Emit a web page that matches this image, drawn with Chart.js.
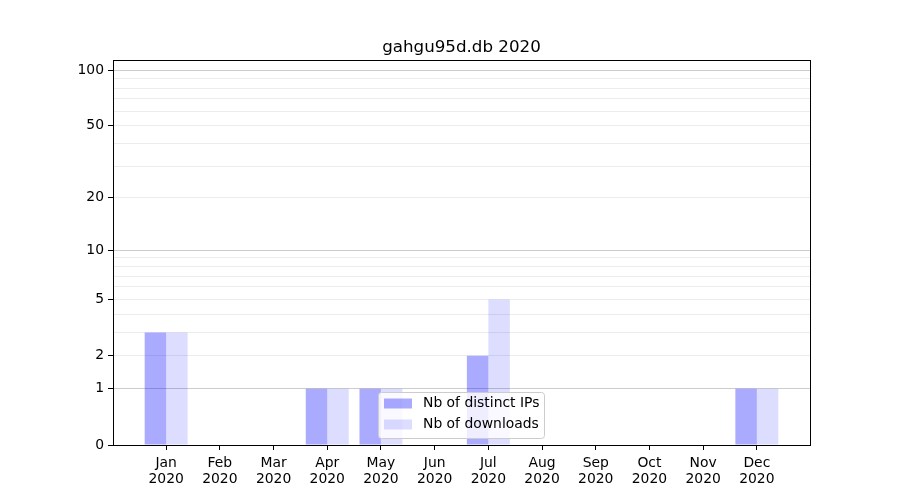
<!DOCTYPE html>
<html>
<head>
<meta charset="utf-8">
<script src="https://cdn.jsdelivr.net/npm/chart.js@4.4.1/dist/chart.umd.min.js"></script>
<style>
  html, body { margin: 0; padding: 0; background: #fff; }
  #wrap { width: 900px; height: 500px; }
</style>
</head>
<body>
<div id="wrap"><canvas id="statsCanvas" width="900" height="500"></canvas></div>
<script>
// --- Datos ---
const chartTitle = 'gahgu95d.db 2020';
const months = ['Jan', 'Feb', 'Mar', 'Apr', 'May', 'Jun', 'Jul', 'Aug', 'Sep', 'Oct', 'Nov', 'Dec'];
const yearLabel = '2020';
const distinctIps = [3, 0, 0, 1, 1, 0, 2, 0, 0, 0, 0, 1];
const downloads = [3, 0, 0, 1, 1, 0, 5, 0, 0, 0, 0, 1];
const yTicks = [0, 1, 2, 3, 4, 5, 6, 7, 8, 9, 10, 20, 30, 40, 50, 60, 70, 80, 90, 100];
const yLabeled = [0, 1, 2, 5, 10, 20, 50, 100];
const yMajor = [0, 1, 10, 100];

const FONT = 'DejaVu Sans';
const ipColor = 'rgba(0, 0, 255, 0.333)';
const dlColor = 'rgba(0, 0, 255, 0.133)';

// Escala log(1 + x), como la del gráfico original
class Log1pScale extends Chart.LinearScale {
    buildTicks() {
        return yTicks.filter(v => v >= this.min && v <= this.max).map(v => ({ value: v }));
    }
    configure() {
        super.configure();
        this._tStart = Math.log10(1 + this.min);
        this._tRange = Math.log10(1 + this.max) - this._tStart;
    }
    getPixelForValue(v) {
        return this.getPixelForDecimal((Math.log10(1 + v) - this._tStart) / this._tRange);
    }
    getValueForPixel(p) {
        return Math.pow(10, this._tStart + this.getDecimalForPixel(p) * this._tRange) - 1;
    }
}
Log1pScale.id = 'log1p';
Log1pScale.defaults = {};
Chart.register(Log1pScale);

// Marco, título y leyenda dentro del área
const framePlugin = {
    id: 'framePlugin',
    afterDatasetsDraw(chart) {
        const { ctx, chartArea: a } = chart;
        ctx.save();
        ctx.strokeStyle = '#000';
        ctx.lineWidth = 1;
        ctx.strokeRect(Math.round(a.left) + 0.5, Math.round(a.top) + 0.5,
            Math.round(a.right - a.left), Math.round(a.bottom - a.top));
        ctx.restore();
    },
    afterDraw(chart) {
        const { ctx, chartArea: a } = chart;
        const cx = (a.left + a.right) / 2;
        ctx.save();
        ctx.fillStyle = '#000';
        ctx.font = `16.7px "${FONT}"`;
        ctx.textAlign = 'center';
        ctx.textBaseline = 'alphabetic';
        ctx.fillText(chartTitle, cx, a.top - 8);

        // leyenda
        const w = 166, h = 46;
        const lx = Math.round(cx - w / 2) - 0.5;
        const ly = Math.round(a.bottom - 7 - h) + 0.5;
        ctx.beginPath();
        ctx.roundRect(lx, ly, w, h, 3);
        ctx.fillStyle = 'rgba(255,255,255,0.8)';
        ctx.fill();
        ctx.strokeStyle = '#cccccc';
        ctx.stroke();
        const items = chart.data.datasets;
        ctx.font = `13.9px "${FONT}"`;
        ctx.textAlign = 'left';
        ctx.textBaseline = 'middle';
        items.forEach((ds, i) => {
            const rowY = ly + 11 + i * 21;
            ctx.fillStyle = ds.backgroundColor;
            ctx.fillRect(lx + 5.5, rowY - 5, 28, 10);
            ctx.fillStyle = '#000';
            ctx.fillText(ds.label, lx + 44.5, rowY);
        });
        ctx.restore();
    }
};

const ctx = document.getElementById('statsCanvas').getContext('2d');
new Chart(ctx, {
    type: 'bar',
    data: {
        datasets: [{
            label: 'Nb of distinct IPs',
            data: distinctIps.map((v, i) => ({ x: i, y: v })),
            backgroundColor: ipColor,
            borderWidth: 0,
            inflateAmount: 0,
            categoryPercentage: 0.8,
            barPercentage: 1.0
        }, {
            label: 'Nb of downloads',
            data: downloads.map((v, i) => ({ x: i, y: v })),
            backgroundColor: dlColor,
            borderWidth: 0,
            inflateAmount: 0,
            categoryPercentage: 0.8,
            barPercentage: 1.0
        }]
    },
    options: {
        responsive: false,
        animation: false,
        devicePixelRatio: 1,
        layout: { padding: { top: 60, left: 0, right: 90, bottom: 0 } },
        plugins: {
            legend: { display: false },
            title: { display: false },
            tooltip: { enabled: false }
        },
        scales: {
            x: {
                type: 'linear',
                min: -0.99,
                max: 11.99,
                offset: false,
                afterBuildTicks: s => { s.ticks = months.map((m, i) => ({ value: i })); },
                afterFit: s => { s.height = 55; },
                ticks: {
                    autoSkip: false,
                    maxRotation: 0,
                    padding: 5,
                    color: '#000',
                    font: { family: FONT, size: 13.9, lineHeight: 1.15 },
                    callback: v => [months[v], yearLabel]
                },
                grid: { drawOnChartArea: false, offset: false, tickLength: 5, color: '#000' },
                border: { color: '#000' }
            },
            y: {
                type: 'log1p',
                min: 0,
                max: 113.5,
                afterFit: s => { s.width = 113; },
                ticks: {
                    autoSkip: false,
                    padding: 4,
                    color: '#000',
                    font: { family: FONT, size: 13.9 },
                    callback: v => yLabeled.includes(v) ? String(v) : ''
                },
                grid: {
                    tickLength: 5,
                    color: c => (c.tick && yMajor.includes(c.tick.value)) ? '#cccccc' : '#ececec',
                    tickColor: c => (c.tick && yLabeled.includes(c.tick.value)) ? '#000' : 'rgba(0,0,0,0)'
                },
                border: { color: '#000' }
            }
        }
    },
    plugins: [framePlugin]
});
</script>
</body>
</html>
